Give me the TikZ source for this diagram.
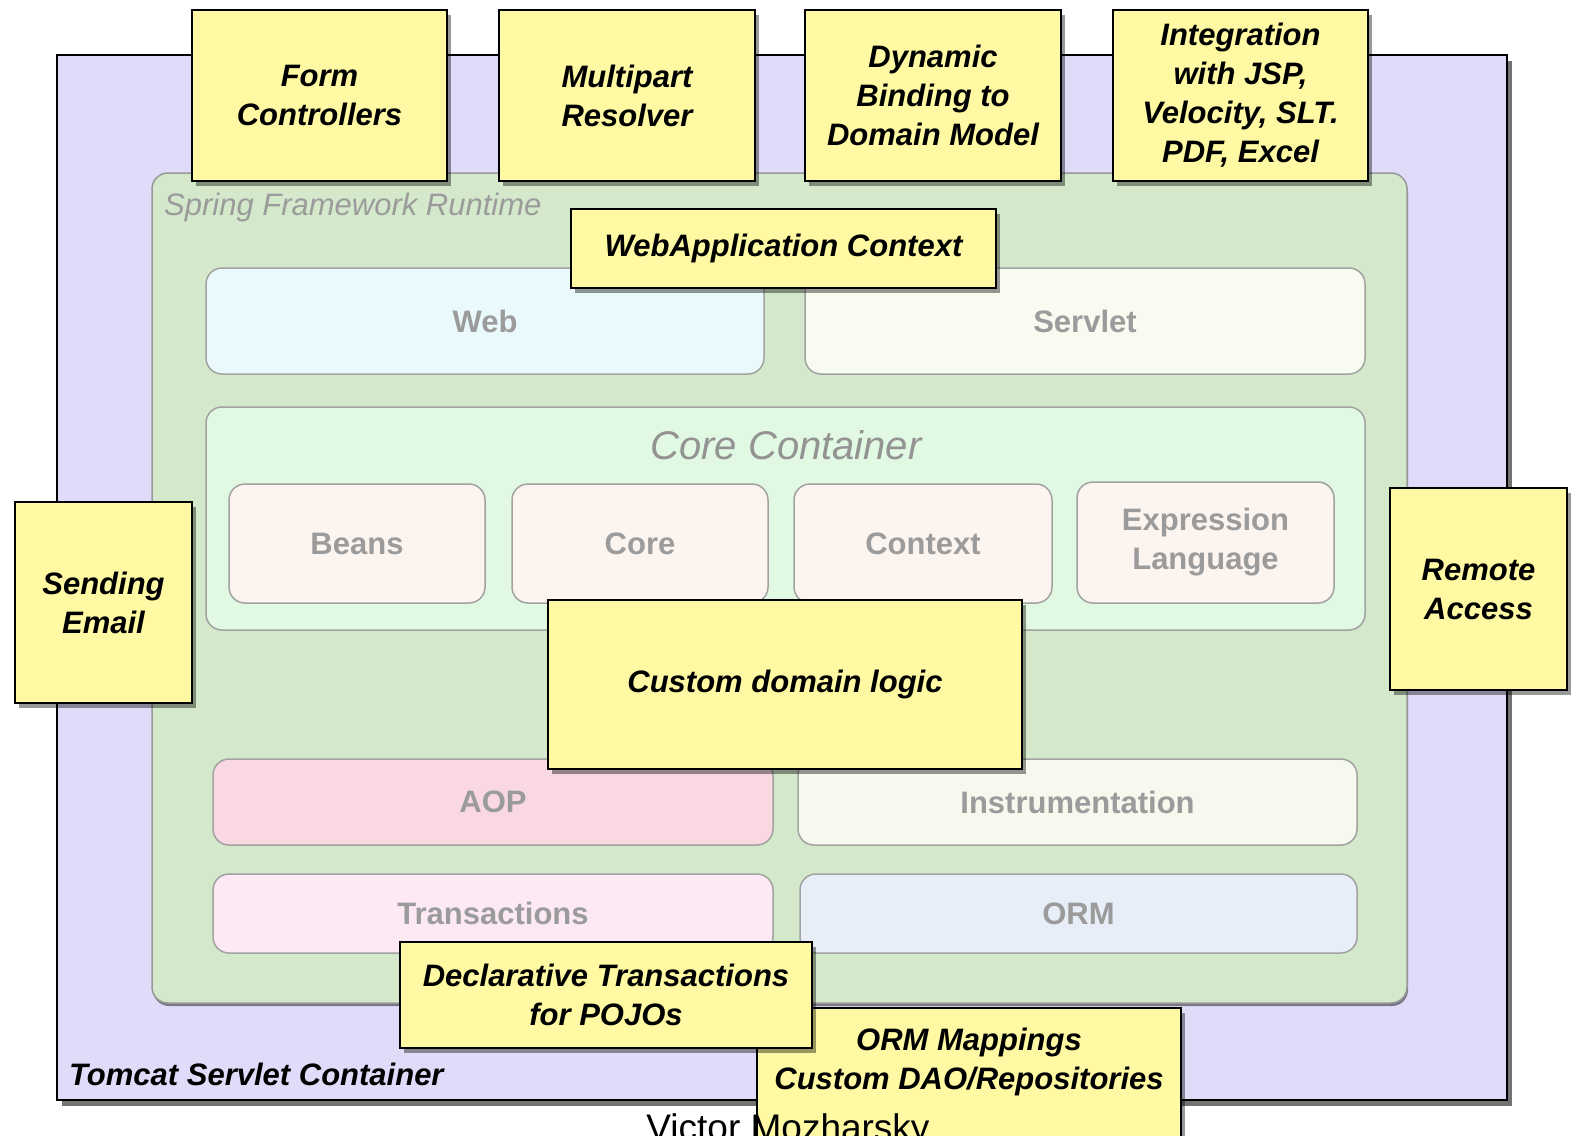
\documentclass[tikz,border=0pt]{standalone}
\usepackage{fontspec}
\setmainfont{Liberation Sans}
\usetikzlibrary{shadows}
\definecolor{lav}{HTML}{E0DBF9}
\definecolor{rtgreen}{HTML}{D4E9CB}
\definecolor{yfill}{HTML}{FEF9A2}
\definecolor{lblgray}{HTML}{9B9B9B}
\definecolor{modborder}{HTML}{A2A2A2}
\definecolor{webfill}{HTML}{E9F9FC}
\definecolor{servfill}{HTML}{F8FBEF}
\definecolor{ccfill}{HTML}{E1F8E3}
\definecolor{beanfill}{HTML}{FBF4EF}
\definecolor{aopfill}{HTML}{F9D8E2}
\definecolor{instfill}{HTML}{F5F9EE}
\definecolor{transfill}{HTML}{FCE9F4}
\definecolor{ormfill}{HTML}{E8EEF8}
\begin{document}
\begin{tikzpicture}[x=1pt,y=-1pt,
  ybox/.style={draw=black, line width=2pt, fill=yfill, inner sep=0pt, align=center,
    font=\bfseries\itshape\fontsize{31}{39}\selectfont,
    drop shadow={shadow xshift=4pt, shadow yshift=-5pt, opacity=0.4, fill=black}},
  modbox/.style={draw=modborder, line width=1.5pt, rounded corners=16pt, inner sep=0pt,
    align=center, text=lblgray, font=\bfseries\fontsize{31}{39}\selectfont},
  plainlbl/.style={inner sep=0pt}]
\useasboundingbox (0,0) rectangle (1595,1135);

% containers
\node[draw=black, line width=2pt, fill=lav, minimum width=1450, minimum height=1045, inner sep=0pt,
  drop shadow={shadow xshift=5pt, shadow yshift=-6pt, opacity=0.55, fill=black}] (tomcat) at (782,577.5) {};
\node[draw=gray!80, line width=1.5pt, fill=rtgreen, rounded corners=16pt, minimum width=1255, minimum height=830, inner sep=0pt,
  drop shadow={shadow xshift=1pt, shadow yshift=-3pt, opacity=0.45, fill=black}] (runtime) at (779.5,588) {};
\node[plainlbl, anchor=west, text=lblgray, font=\itshape\fontsize{31}{39}\selectfont] (sfr) at (164,207) {Spring Framework Runtime};

% modules
\node[modbox, fill=webfill, minimum width=558, minimum height=106] (web) at (485,321) {Web};
\node[modbox, fill=servfill, minimum width=560, minimum height=106] (servlet) at (1085,321) {Servlet};
\node[modbox, fill=ccfill, minimum width=1159, minimum height=223] (corecont) at (785.5,518.5) {};
\node[plainlbl, text=lblgray!95!black, font=\itshape\fontsize{40}{48}\selectfont] (cclbl) at (786,445) {Core Container};
\node[modbox, fill=beanfill, minimum width=256, minimum height=119] (beans) at (357,543.5) {Beans};
\node[modbox, fill=beanfill, minimum width=256, minimum height=119] (core) at (640,543.5) {Core};
\node[modbox, fill=beanfill, minimum width=258, minimum height=119] (context) at (923,543.5) {Context};
\node[modbox, fill=beanfill, minimum width=257, minimum height=121] (expr) at (1205.5,542.5) {Expression\\Language};
\node[modbox, fill=aopfill, minimum width=560, minimum height=86] (aop) at (493,802) {AOP};
\node[modbox, fill=instfill, minimum width=559, minimum height=86] (instr) at (1077.5,802) {Instrumentation};
\node[modbox, fill=transfill, minimum width=560, minimum height=79] (trans) at (493,913.5) {Transactions};
\node[modbox, fill=ormfill, minimum width=557, minimum height=79] (orm) at (1078.5,913.5) {ORM};

\node[plainlbl, anchor=west, font=\bfseries\itshape\fontsize{31}{39}\selectfont] (tsc) at (69,1074) {Tomcat Servlet Container};

% yellow boxes
\node[ybox, minimum width=255, minimum height=171] (form) at (319.5,95.5) {Form\\Controllers};
\node[ybox, minimum width=256, minimum height=171] (multi) at (627,95.5) {Multipart\\Resolver};
\node[ybox, minimum width=256, minimum height=171] (dyn) at (933,95.5) {Dynamic\\Binding to\\Domain Model};
\node[ybox, minimum width=255, minimum height=171] (integ) at (1240.5,95.5) {Integration\\with JSP,\\Velocity, SLT.\\PDF, Excel};
\node[ybox, minimum width=425, minimum height=79] (webapp) at (783.5,248.5) {WebApplication Context};
\node[ybox, minimum width=177, minimum height=201] (email) at (103.5,602.5) {Sending\\Email};
\node[ybox, minimum width=177, minimum height=202] (remote) at (1478.5,589) {Remote\\Access};
\node[ybox, minimum width=474, minimum height=169] (custom) at (785,684.5) {Custom domain logic};
\node[ybox, minimum width=424, minimum height=132, text depth=31pt] (ormmap) at (969,1074) {ORM Mappings\\Custom DAO/Repositories};
\node[ybox, minimum width=412, minimum height=106] (decl) at (606,995) {Declarative Transactions\\for POJOs};

\node[plainlbl, anchor=base, font=\fontsize{37}{37}\selectfont] (author) at (788,1140) {Victor Mozharsky};
\end{tikzpicture}
\end{document}
